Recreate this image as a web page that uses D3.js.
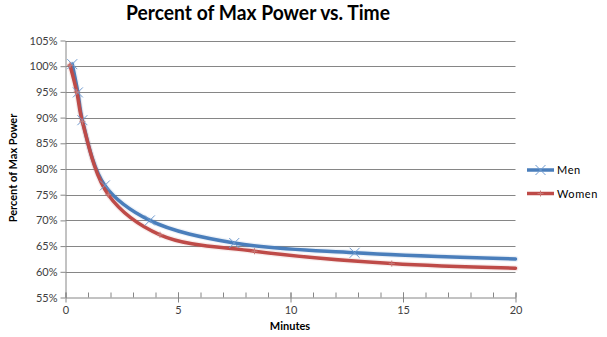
<!DOCTYPE html>
<html><head><meta charset="utf-8">
<script src="https://cdn.jsdelivr.net/npm/d3@7"></script>
<style>body{margin:0;background:#fff}svg{display:block}</style>
</head><body>
<script>
const title = "Percent of Max Power vs. Time";
const xLabel = "Minutes";
const yLabel = "Percent of Max Power";
const seriesNames = ["Men", "Women"];
const menMinutes = [0.3, 0.55, 0.75, 1.75, 3.75, 7.5, 12.85, 20];
const menPct     = [100.4, 94.9, 89.5, 76.8, 70.0, 65.6, 63.7, 62.5];
const womenMinutes = [0.2, 0.5, 0.75, 1.9, 4.2, 8.4, 14.5, 20];
const womenPct     = [100.2, 95.0, 89.2, 75.0, 67.2, 64.0, 61.6, 60.7];
const xTicks = [0, 5, 10, 15, 20];
const yTicks = [55, 60, 65, 70, 75, 80, 85, 90, 95, 100, 105];
const colors = ["#4A7EBB", "#BE4B48"];

const W = 607, H = 337;
const svg = d3.select("body").append("svg").attr("width", W).attr("height", H);
const x = d3.scaleLinear().domain([0, 20]).range([65.5, 515.5]);
const y = d3.scaleLinear().domain([55, 105]).range([297.5, 40.5]);
const font = "Lato, 'Liberation Sans', sans-serif";

svg.append("text").attr("x", 258).attr("y", 20).attr("text-anchor", "middle")
  .attr("font-family", font).attr("font-weight", "bold").attr("font-size", 21)
  .attr("textLength", 264).attr("lengthAdjust", "spacingAndGlyphs").attr("fill", "#000").text(title);

// gridlines
svg.append("g").selectAll("line").data(yTicks.filter(v => v > 55)).join("line")
  .attr("x1", x(0)).attr("x2", x(20)).attr("y1", d => Math.round(y(d)) + 0.5).attr("y2", d => Math.round(y(d)) + 0.5)
  .attr("stroke", "#868686").attr("stroke-width", 1);

// y axis
const yAxis = d3.axisLeft(y).tickValues(yTicks).tickFormat(d => d + "%").tickSize(5).tickSizeOuter(0);
const gy = svg.append("g").attr("transform", "translate(65.5,0)").call(yAxis);
gy.selectAll("text").attr("font-family", font).attr("font-size", 11).attr("fill", "#404040").attr("x", -8);
gy.selectAll("line,path").attr("stroke", "#868686");

// x axis
const gx = svg.append("g").attr("transform", "translate(0,297.5)");
gx.call(d3.axisBottom(x).tickValues(d3.range(0, 21, 1)).tickSize(-5).tickFormat("").tickSizeOuter(0));
gx.call(g => g.selectAll(".tick line").attr("stroke", "#868686"));
const gx2 = svg.append("g").attr("transform", "translate(0,297.5)")
  .call(d3.axisBottom(x).tickValues(xTicks).tickSize(5).tickSizeOuter(0).tickFormat(d3.format("d")));
gx2.select(".domain").remove();
gx2.selectAll("line").attr("stroke", "#868686").attr("y1", -5);
gx2.selectAll("text").attr("font-family", font).attr("font-size", 11).attr("fill", "#404040").attr("dy", "0.9em").attr("y", 7);
gx.select(".domain").attr("stroke", "#868686");

svg.append("text").attr("x", 290).attr("y", 330).attr("text-anchor", "middle")
  .attr("font-family", font).attr("font-weight", "bold").attr("font-size", 11).text(xLabel);
svg.append("text").attr("transform", "translate(17,168) rotate(-90)").attr("text-anchor", "middle")
  .attr("font-family", font).attr("font-weight", "bold").attr("font-size", 11).text(yLabel);

const series = [
  {name: seriesNames[0], pts: menMinutes.map((t, i) => ({t, v: menPct[i]}))},
  {name: seriesNames[1], pts: womenMinutes.map((t, i) => ({t, v: womenPct[i]}))}
];
const line = d3.line().x(d => x(d.t)).y(d => y(d.v)).curve(d3.curveCatmullRom.alpha(0.5));

series.forEach((s, i) => {
  svg.append("path").attr("d", line(s.pts)).attr("fill", "none")
    .attr("stroke", colors[i]).attr("stroke-opacity", 0.1).attr("stroke-width", 6).attr("stroke-linecap", "round");
  svg.append("path").attr("d", line(s.pts)).attr("fill", "none")
    .attr("stroke", colors[i]).attr("stroke-width", 3.5).attr("stroke-linejoin", "round").attr("stroke-linecap", "round");
});

function marker(g, i, cx, cy) {
  if (i === 0) {
    const r = 5;
    g.append("path").attr("d", `M${cx-r},${cy-r}L${cx+r},${cy+r}M${cx-r},${cy+r}L${cx+r},${cy-r}`)
      .attr("stroke", "#6f9bd0").attr("stroke-width", 1).attr("fill", "none");
  } else {
    const r = 3;
    g.append("path").attr("d", `M${cx},${cy-r}L${cx},${cy+r}M${cx-r},${cy}L${cx+r},${cy}`)
      .attr("stroke", "#c77a78").attr("stroke-width", 1).attr("fill", "none");
  }
}
series.forEach((s, i) => {
  const g = svg.append("g");
  s.pts.filter(d => d.t < 20).forEach(d => marker(g, i, x(d.t), y(d.v)));
});

// legend
series.forEach((s, i) => {
  const ly = 170 + i * 23.5;
  svg.append("line").attr("x1", 527).attr("x2", 554).attr("y1", ly).attr("y2", ly)
    .attr("stroke", colors[i]).attr("stroke-width", 3.5);
  marker(svg, i, 540.5, ly);
  svg.append("text").attr("x", 557).attr("y", ly + 4).attr("font-family", font).attr("font-size", 11)
    .attr("letter-spacing", 0.6).attr("fill", "#000").text(s.name);
});
</script>
</body></html>
